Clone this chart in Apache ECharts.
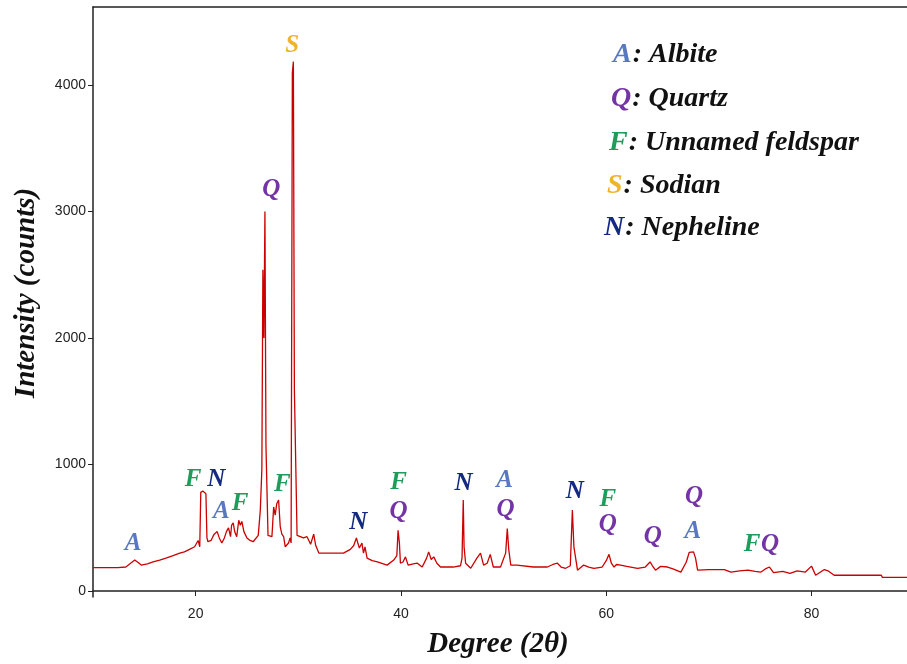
<!DOCTYPE html>
<html>
<head>
<meta charset="utf-8">
<script src="https://cdn.jsdelivr.net/npm/echarts@6/dist/echarts.min.js"></script>
<style>
  html, body { margin: 0; padding: 0; background: #fff; }
  #main { width: 907px; height: 664px; }
</style>
</head>
<body>
<div id="main"></div>
<script>
// XRD pattern, 2θ vs counts
const degrees = [
  10.0, 12.4, 13.2, 13.6, 14.07, 14.4, 14.7, 15.3, 15.85, 16.5, 17.1, 17.8, 18.45, 18.9, 19.4, 19.9,
  20.24, 20.4, 20.5, 20.6, 20.7, 20.85, 21.0, 21.1, 21.2, 21.5, 21.8, 22.1, 22.3, 22.55, 22.8, 23.0,
  23.2, 23.4, 23.5, 23.66, 23.8, 24.0, 24.2, 24.35, 24.5, 24.7, 25.0, 25.3, 25.6, 26.1, 26.3, 26.45,
  26.55, 26.65, 26.75, 26.85, 26.95, 27.05, 27.1, 27.43, 27.6, 27.75, 27.9, 28.08, 28.24, 28.4,
  28.57, 28.73, 28.9, 29.05, 29.2, 29.3, 29.42, 29.52, 29.62, 29.8, 29.88, 30.0, 30.5, 30.85,
  31.2, 31.5, 31.7, 32.0, 32.5, 33.1, 34.4, 35.07, 35.4, 35.66, 35.8, 35.95, 36.2, 36.35, 36.5,
  36.7, 37.2, 37.7, 38.65, 39.3, 39.6, 39.72, 39.85, 39.95, 40.2, 40.44, 40.7, 41.2, 41.6, 42.07,
  42.5, 42.7, 42.95, 43.2, 43.5, 43.85, 45.1, 45.8, 45.95, 46.07, 46.15, 46.3, 46.8, 47.4, 47.75,
  48.05, 48.4, 48.7, 49.0, 49.7, 50.2, 50.36, 50.5, 50.7, 51.3, 52.9, 54.26, 54.8, 55.24, 55.6,
  56.05, 56.5, 56.7, 56.85, 57.0, 57.2, 57.8, 58.3, 58.8, 59.6, 60.0, 60.27, 60.5, 60.76, 61.0,
  61.4, 62.0, 63.05, 63.8, 64.27, 64.5, 64.8, 65.3, 65.97, 66.5, 67.27, 67.8, 68.08, 68.5, 68.7,
  68.9, 70.0, 71.5, 72.15, 73.0, 73.8, 74.5, 75.07, 75.5, 75.9, 76.3, 77.2, 77.9, 78.6, 79.4,
  80.0, 80.4, 81.25, 81.6, 82.2, 84.5, 86.8, 86.9, 89.3
];
const counts = [
  185, 185, 190, 215, 245, 225, 205, 215, 230, 245, 260, 280, 300, 310, 330, 350,
  400, 350, 780, 770, 790, 780, 770, 420, 390, 400, 450, 470, 420, 380, 420, 470,
  500, 430, 520, 540, 470, 430, 560, 520, 550, 470, 420, 400, 390, 440, 640, 960,
  2540, 2000, 3000, 1150, 1150, 440, 440, 430, 665, 600, 690, 720, 510, 450,
  430, 350, 350, 380, 420, 380, 4095, 4185, 1590, 1590, 440, 430, 420, 430,
  370, 450, 360, 300, 300, 300, 300, 330, 360, 420, 380, 340, 380, 300, 350,
  260, 240, 230, 205, 245, 280, 480, 380, 220, 230, 270, 205, 215, 220, 190,
  260, 310, 250, 270, 220, 190, 190, 200, 260, 720, 350, 220, 180, 260, 300,
  205, 220, 290, 190, 190, 300, 495, 330, 205, 205, 190, 190, 210, 220, 190,
  180, 200, 640, 350, 350, 165, 205, 190, 180, 190, 240, 290, 220, 190, 210,
  205, 195, 180, 190, 230, 200, 165, 195, 190, 175, 150, 230, 305, 310, 260,
  165, 170, 170, 150, 160, 165, 155, 150, 175, 190, 145, 155, 140, 160, 150,
  197, 125, 170, 160, 125, 125, 125, 108, 108
];

// phase markers above peaks
const markX = [13.9, 19.76, 22.0, 22.5, 24.34, 27.37, 29.4, 28.44, 35.85, 39.76, 39.76, 46.1,
  50.1, 50.2, 56.93, 60.15, 60.15, 64.54, 68.54, 68.44, 74.2, 75.95];
const markY = [372, 885, 885, 625, 688, 3170, 4310, 838, 538, 854, 632, 846,
  877, 648, 783, 727, 522, 427, 751, 474, 364, 364];
const markPhase = ['A', 'F', 'N', 'A', 'F', 'Q', 'S', 'F', 'N', 'F', 'Q', 'N',
  'A', 'Q', 'N', 'F', 'Q', 'Q', 'Q', 'A', 'F', 'Q'];

const legendPhase = ['A', 'Q', 'F', 'S', 'N'];
const legendName = ['Albite', 'Quartz', 'Unnamed feldspar', 'Sodian', 'Nepheline'];

const xTicks = [20, 40, 60, 80];
const yTicks = [0, 1000, 2000, 3000, 4000];

const phaseColor = { A: '#5878c0', Q: '#7434a6', F: '#1d9c5a', S: '#f0b42c', N: '#132a80' };
const titleFont = 'italic bold 29px "Liberation Serif"';
const legendFont = 'italic bold 28px "Liberation Serif"';
const markFont = 'italic bold 25px "Liberation Serif"';

const myChart = echarts.init(document.getElementById('main'));

const option = {
  animation: false,
  grid: { left: 93, right: 0, top: 7, bottom: 67 },
  xAxis: [
    {
      type: 'value',
      min: 10,
      max: 89.3,
      axisLine: { lineStyle: { color: '#222', width: 1.5 } },
      axisTick: { customValues: xTicks, length: 5, lineStyle: { color: '#222' } },
      axisLabel: { customValues: xTicks, color: '#222', fontFamily: 'Liberation Sans', fontSize: 14, margin: 10, formatter: v => String(v) },
      splitLine: { show: false }
    },
    {
      type: 'value',
      position: 'top',
      min: 10,
      max: 89.3,
      axisLine: { show: true, lineStyle: { color: '#222', width: 1.5 } },
      axisTick: { show: false },
      axisLabel: { show: false },
      splitLine: { show: false }
    }
  ],
  yAxis: {
    type: 'value',
    min: -47,
    max: 4617,
    axisLine: { show: true, lineStyle: { color: '#222', width: 1.5 } },
    axisTick: { show: true, customValues: yTicks, length: 5, lineStyle: { color: '#222' } },
    axisLabel: { customValues: yTicks, color: '#222', fontFamily: 'Liberation Sans', fontSize: 14, margin: 7, formatter: v => String(v) },
    splitLine: { show: false }
  },
  series: [
    {
      type: 'line',
      data: degrees.map((d, i) => [d, counts[i]]),
      symbol: 'none',
      lineStyle: { color: '#cc0000', width: 1.3 },
      z: 2
    }
  ]
};
myChart.setOption(option);

// phase letters: placed through the chart's own coordinate conversion
const graphics = [];
markX.forEach((x, i) => {
  const pt = myChart.convertToPixel({ xAxisIndex: 0, yAxisIndex: 0 }, [x, markY[i]]);
  graphics.push({
    type: 'text', x: pt[0], y: pt[1], z: 10,
    style: { text: markPhase[i], fill: phaseColor[markPhase[i]], font: markFont, align: 'center', verticalAlign: 'middle' }
  });
});

// legend: coloured letter + black name; name placed right after the measured letter
const ctx = document.createElement('canvas').getContext('2d');
ctx.font = legendFont;
const legendLetterLeft = [613, 611, 609, 607, 604];
const legendTop = [55, 99, 143, 186, 228];
legendPhase.forEach((p, i) => {
  const w = ctx.measureText(p).width;
  graphics.push({
    type: 'text', x: legendLetterLeft[i], y: legendTop[i],
    style: { text: p, fill: phaseColor[p], font: legendFont, verticalAlign: 'middle' }
  });
  graphics.push({
    type: 'text', x: legendLetterLeft[i] + w + 1, y: legendTop[i],
    style: { text: ': ' + legendName[i], fill: '#111', font: legendFont, verticalAlign: 'middle' }
  });
});
// axis titles
graphics.push({
  type: 'text', x: 27, y: 293, rotation: Math.PI / 2,
  style: { text: 'Intensity (counts)', fill: '#111', font: titleFont, align: 'center', verticalAlign: 'middle' }
});
graphics.push({
  type: 'text', x: 498, y: 645,
  style: { text: 'Degree (2θ)', fill: '#111', font: titleFont, align: 'center', verticalAlign: 'middle' }
});

myChart.setOption({ graphic: graphics });
</script>
</body>
</html>
